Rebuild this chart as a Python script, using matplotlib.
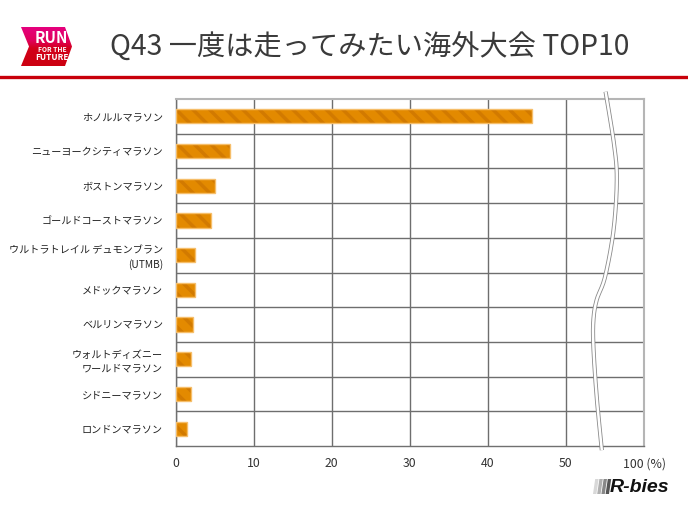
import numpy as np
import matplotlib
matplotlib.use("Agg")
import matplotlib.pyplot as plt
from matplotlib.patches import Polygon

plt.rcParams['font.family'] = ['Noto Sans CJK JP', 'DejaVu Sans']
plt.rcParams['hatch.linewidth'] = 2.5

# データ (%)
categories = ["ホノルルマラソン", "ニューヨークシティマラソン", "ボストンマラソン",
              "ゴールドコーストマラソン", "ウルトラトレイル デュモンブラン\n(UTMB)",
              "メドックマラソン", "ベルリンマラソン", "ウォルトディズニー\nワールドマラソン",
              "シドニーマラソン", "ロンドンマラソン"]
values = [45.6, 7.0, 5.0, 4.55, 2.5, 2.5, 2.2, 2.0, 2.0, 1.5]
xticks = [0, 10, 20, 30, 40, 50, 60]
xticklabels = ["0", "10", "20", "30", "40", "50", "100 (%)"]
title = "Q43 一度は走ってみたい海外大会 TOP10"

W, H = 688, 516
fig = plt.figure(figsize=(W / 100, H / 100), dpi=100)
fig.patch.set_facecolor("white")

# グラフ本体
ax = fig.add_axes([175.5 / W, 1 - 446 / H, (644 - 175.5) / W, (446 - 99) / H])
y = np.arange(len(categories))
ax.barh(y, values, height=0.41, color="#E38A00", edgecolor="#D27A00",
        linewidth=0, hatch="\\\\", zorder=3)
ax.barh(y, values, height=0.41, facecolor="none", edgecolor="#F6BE6A",
        linewidth=1, zorder=4)

ax.set_xlim(0, 60)
ax.set_ylim(len(categories) - 0.5, -0.5)
ax.set_xticks(xticks)
ax.set_xticklabels(xticklabels, fontsize=8.8, color="#333333")
ax.set_yticks(y)
ax.set_yticklabels(categories, fontsize=7.3, color="#222222", linespacing=1.35)
ax.set_yticks(np.arange(len(categories) - 1) + 0.5, minor=True)
ax.tick_params(which="both", length=0)
ax.tick_params(axis="y", pad=9)
ax.tick_params(axis="x", pad=8)
ax.grid(axis="x", which="major", color="#6e6e6e", linewidth=1, zorder=1)
ax.grid(axis="y", which="minor", color="#6e6e6e", linewidth=1, zorder=1)
for side in ["left", "bottom"]:
    ax.spines[side].set_color("#707070")
    ax.spines[side].set_linewidth(1)
for side in ["top", "right"]:
    ax.spines[side].set_color("#b5b5b5")
    ax.spines[side].set_linewidth(1.5)


# 省略線 (波線)
def smooth(pts, n=20):
    pts = np.asarray(pts, dtype=float)
    p = np.vstack([pts[0], pts, pts[-1]])
    out = []
    t = np.linspace(0, 1, n)[:, None]
    for i in range(1, len(p) - 2):
        p0, p1, p2, p3 = p[i - 1], p[i], p[i + 1], p[i + 2]
        out.append(0.5 * (2 * p1 + (-p0 + p2) * t + (2 * p0 - 5 * p1 + 4 * p2 - p3) * t ** 2
                          + (-p0 + 3 * p1 - 3 * p2 + p3) * t ** 3))
    return np.vstack(out)


brk = smooth([(0.918, 1.021), (0.936, 0.87), (0.942, 0.767), (0.935, 0.622),
              (0.917, 0.488), (0.899, 0.421), (0.892, 0.363), (0.892, 0.286),
              (0.899, 0.142), (0.910, -0.012)])
ax.plot(brk[:, 0], brk[:, 1], transform=ax.transAxes, color="#8a8a8a",
        linewidth=3.0, clip_on=False, zorder=6, solid_capstyle="butt")
ax.plot(brk[:, 0], brk[:, 1], transform=ax.transAxes, color="white",
        linewidth=1.8, clip_on=False, zorder=7, solid_capstyle="butt")

# ヘッダー・ロゴ
ov = fig.add_axes([0, 0, 1, 1])
ov.set_xlim(0, W)
ov.set_ylim(H, 0)
ov.axis("off")

ov.plot([0, W], [77, 77], color="#C8000A", linewidth=2.4)
ov.text(110, 48, title, fontsize=20.3, color="#3a3a3a", ha="left", va="center")

badge = Polygon([(21, 27), (65, 27), (72, 46.5), (65, 66), (21, 66), (29, 46.5)],
                closed=True, facecolor="none", edgecolor="none")
ov.add_patch(badge)
grad = np.linspace(0, 1, 64)[:, None]
cmap = matplotlib.colors.LinearSegmentedColormap.from_list(
    "b", [(0, "#E5007E"), (0.35, "#E0005A"), (0.55, "#D2001A"), (1, "#CC0010")])
img = ov.imshow(grad, extent=(20, 73, 66, 27), aspect="auto", cmap=cmap)
img.set_clip_path(badge)
ov.set_xlim(0, W)
ov.set_ylim(H, 0)
ov.text(51.5, 38, "RUN", fontsize=11, color="white", fontweight="bold",
        ha="center", va="center")
ov.text(52, 49.3, "FOR THE", fontsize=4.8, color="white", fontweight="bold",
        ha="center", va="center")
ov.text(52, 57, "FUTURE", fontsize=6.0, color="white", fontweight="bold",
        ha="center", va="center")

for i, c in enumerate(["#d8d8d8", "#b0b0b0", "#888888", "#555555"]):
    x0 = 593 + i * 4.2
    ov.add_patch(Polygon([(x0 + 2.2, 479), (x0 + 5.6, 479), (x0 + 3.4, 494), (x0, 494)],
                         closed=True, facecolor=c, edgecolor="none"))
ov.text(610, 487, "R-bies", fontsize=14, color="#111111", fontweight="bold",
        fontstyle="italic", ha="left", va="center", family="Liberation Sans")

fig.savefig("out.png", dpi=100, facecolor="white")
